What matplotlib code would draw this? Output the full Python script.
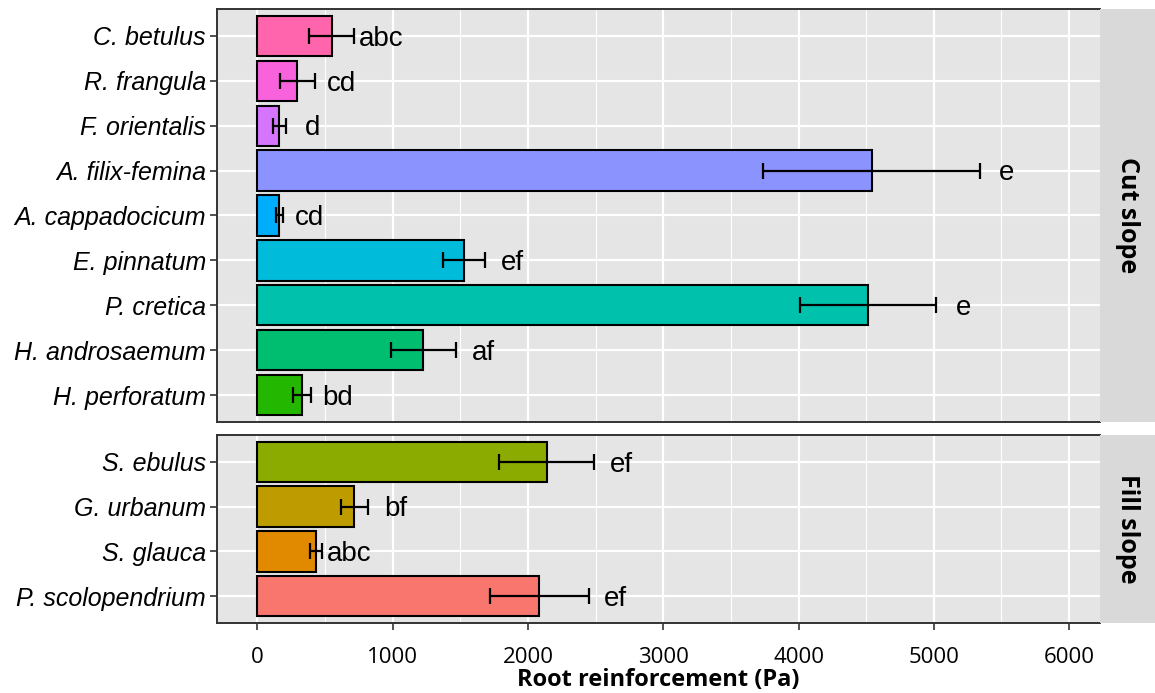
import numpy as np
import matplotlib
matplotlib.use('Agg')
import matplotlib.pyplot as plt

# cut slope species (top to bottom)
cut_species = ['C. betulus', 'R. frangula', 'F. orientalis', 'A. filix-femina',
               'A. cappadocicum', 'E. pinnatum', 'P. cretica', 'H. androsaemum',
               'H. perforatum']
cut_mean = [549, 295, 163, 4540, 163, 1530, 4515, 1228, 330]
cut_se = [166, 128, 48, 800, 25, 155, 503, 242, 66]
cut_letters = ['abc', 'cd', 'd', 'e', 'cd', 'ef', 'e', 'af', 'bd']
cut_colors = ['#FF65AC', '#F962DD', '#D575FE', '#8B93FF', '#00ACFC',
              '#00BBDA', '#00C1AB', '#00BE70', '#24B700']

# fill slope species
fill_species = ['S. ebulus', 'G. urbanum', 'S. glauca', 'P. scolopendrium']
fill_mean = [2139, 718, 433, 2083]
fill_se = [350, 103, 43, 366]
fill_letters = ['ef', 'bf', 'abc', 'ef']
fill_colors = ['#8CAB00', '#BE9C00', '#E18A00', '#F8766D']

xticks = [0, 1000, 2000, 3000, 4000, 5000, 6000]
minor = [500, 1500, 2500, 3500, 4500, 5500]

W, H = 1155, 693
fig = plt.figure(figsize=(W/100, H/100), dpi=100)

def box(l, t, r, b):
    return [l/W, 1 - b/H, (r - l)/W, (b - t)/H]

def panel(ax, species, mean, se, letters, colors, show_x):
    n = len(species)
    y = np.arange(n)
    ax.set_facecolor('#E5E5E5')
    ax.set_xlim(-298, 6228)
    ax.set_ylim(n - 0.4, -0.6)
    for v in minor:
        ax.axvline(v, color='white', lw=0.8, zorder=0)
    for v in xticks:
        ax.axvline(v, color='white', lw=1.6, zorder=0)
    for v in y:
        ax.axhline(v, color='white', lw=1.6, zorder=0)
    ax.barh(y, mean, height=0.9, color=colors, edgecolor='black', lw=1.5, zorder=2)
    ax.errorbar(mean, y, xerr=se, fmt='none', ecolor='black', elinewidth=1.6,
                capsize=6, capthick=1.6, zorder=3)
    for yi, m, s, lab in zip(y, mean, se, letters):
        ax.text(m + s + 200, yi + 0.06, lab, ha='center', va='center',
                fontsize=20, family='Liberation Sans', zorder=4)
    ax.set_yticks(y)
    ax.set_yticklabels(species, fontsize=18, style='italic', family='Liberation Sans')
    ax.set_xticks(xticks)
    ax.tick_params(axis='both', color='#333333', length=5, width=1.2)
    ax.tick_params(axis='y', pad=3)
    if show_x:
        ax.set_xticklabels([str(v) for v in xticks], fontsize=16, family='Open Sans')
        ax.tick_params(axis='x', pad=12)
    else:
        ax.tick_params(axis='x', length=0, labelbottom=False)
    for s in ['left', 'top', 'bottom']:
        ax.spines[s].set_color('#333333')
        ax.spines[s].set_linewidth(1.4)
    ax.spines['right'].set_visible(False)

ax1 = fig.add_axes(box(217, 9, 1100, 422))
panel(ax1, cut_species, cut_mean, cut_se, cut_letters, cut_colors, False)
ax2 = fig.add_axes(box(217, 435, 1100, 623))
panel(ax2, fill_species, fill_mean, fill_se, fill_letters, fill_colors, True)
ax2.set_xlabel('Root reinforcement (Pa)', fontsize=17, fontweight='bold',
               family='Open Sans', labelpad=0)

# facet strips
for (t, b), lab in [((9, 422), 'Cut slope'), ((435, 623), 'Fill slope')]:
    s = fig.add_axes(box(1100, t, 1155, b))
    s.set_facecolor('#D9D9D9')
    s.set_xticks([]); s.set_yticks([])
    for sp in s.spines.values():
        sp.set_visible(False)
    s.text(0.5, 0.5, lab, rotation=-90, ha='center', va='center',
           fontsize=18, fontweight='bold', family='Open Sans', transform=s.transAxes)

plt.savefig('out.png', dpi=100)
